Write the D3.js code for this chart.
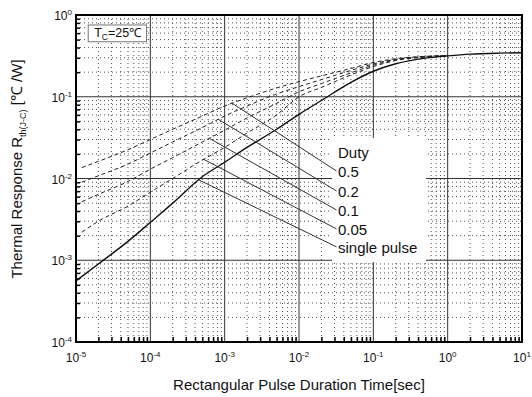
<!DOCTYPE html>
<html>
<head>
<meta charset="utf-8">
<script src="https://cdn.jsdelivr.net/npm/d3@7"></script>
<style>
  body { margin: 0; background: #fff; }
  text { font-family: "Liberation Sans", Arial, sans-serif; fill: #111; }
</style>
</head>
<body>
<div id="chart"></div>
<script>
// single pulse curve (t in sec, R in degC/W)
const singleT = [1e-5, 2e-5, 5e-5, 1e-4, 2e-4, 5e-4, 1e-3, 2e-3, 5e-3, 1e-2, 2e-2, 5e-2, 1e-1, 2e-1, 5e-1, 1, 2, 5, 10];
const singleR = [5.6e-4, 9.0e-4, 1.7e-3, 2.9e-3, 5.0e-3, 1.05e-2, 0.0158, 0.024, 0.040, 0.061, 0.090, 0.150, 0.205, 0.253, 0.297, 0.316, 0.332, 0.342, 0.346];

// duty cycle curves
const dutyT = [1.2e-5, 2e-5, 5e-5, 1e-4, 2e-4, 5e-4, 1e-3, 2e-3, 5e-3, 1e-2, 2e-2, 5e-2, 1e-1, 2e-1, 5e-1, 1];
const duty05 = [0.0136, 0.0162, 0.0225, 0.0300, 0.040, 0.058, 0.077, 0.097, 0.128, 0.153, 0.180, 0.222, 0.262, 0.292, 0.312, 0.318];
const duty02 = [0.0090, 0.0108, 0.0150, 0.0205, 0.028, 0.042, 0.058, 0.077, 0.108, 0.133, 0.162, 0.210, 0.252, 0.287, 0.310, 0.318];
const duty01 = [0.0052, 0.0064, 0.0092, 0.0130, 0.018, 0.028, 0.039, 0.055, 0.083, 0.115, 0.145, 0.196, 0.243, 0.282, 0.308, 0.318];
const duty005 = [0.0022, 0.0030, 0.0046, 0.0068, 0.010, 0.0168, 0.024, 0.036, 0.060, 0.100, 0.130, 0.185, 0.234, 0.277, 0.306, 0.317];

// annotation: leader anchors on curves and label rows
const legendRows = ["Duty", "0.5", "0.2", "0.1", "0.05", "single pulse"];
const legendRowR = [0.0178, 0.01043, 0.00594, 0.00348, 0.00204, 0.00123];
const leaderT = [1.24e-3, 8.2e-4, 6.2e-4, 5.2e-4, 4.4e-4];
const leaderR = [0.084, 0.053, 0.031, 0.0172, 0.0097];
const labelT = 0.0335;
const legendBoxT = [0.0278, 0.512];
const legendBoxR = [0.0313, 0.00095];
const tcBoxT = [1.46e-5, 8.9e-5];
const tcBoxR = [0.755, 0.471];

const xDecades = [-5, -4, -3, -2, -1, 0, 1];
const yDecades = [-4, -3, -2, -1, 0];

const width = 532, height = 397;
const margin = { top: 15, right: 10, bottom: 55, left: 76 };

const svg = d3.select("#chart").append("svg")
  .attr("width", width).attr("height", height);

const x = d3.scaleLog().domain([1e-5, 10]).range([margin.left, width - margin.right]);
const y = d3.scaleLog().domain([1e-4, 1]).range([height - margin.bottom, margin.top]);

// minor positions 2..9 in each decade
function minors(decs) {
  let out = [];
  decs.slice(0, -1).forEach(d => {
    for (let m = 2; m <= 9; m++) out.push(m * Math.pow(10, d));
  });
  return out;
}
const xMinor = minors(xDecades), yMinor = minors(yDecades);
const xMajor = xDecades.map(d => Math.pow(10, d));
const yMajor = yDecades.map(d => Math.pow(10, d));

const grid = svg.append("g");
// minor dotted grid
grid.selectAll(".xminor").data(xMinor).enter().append("line")
  .attr("x1", d => x(d)).attr("x2", d => x(d))
  .attr("y1", y(1)).attr("y2", y(1e-4))
  .attr("stroke", "#555").attr("stroke-width", 1).attr("stroke-dasharray", "1,3");
grid.selectAll(".yminor").data(yMinor).enter().append("line")
  .attr("y1", d => y(d)).attr("y2", d => y(d))
  .attr("x1", x(1e-5)).attr("x2", x(10))
  .attr("stroke", "#555").attr("stroke-width", 1).attr("stroke-dasharray", "1,3");
// major grid
grid.selectAll(".xmajor").data(xMajor).enter().append("line")
  .attr("x1", d => x(d)).attr("x2", d => x(d))
  .attr("y1", y(1)).attr("y2", y(1e-4))
  .attr("stroke", "#333").attr("stroke-width", 1);
grid.selectAll(".ymajor").data(yMajor).enter().append("line")
  .attr("y1", d => y(d)).attr("y2", d => y(d))
  .attr("x1", x(1e-5)).attr("x2", x(10))
  .attr("stroke", "#333").attr("stroke-width", 1);

// inside ticks on left and bottom
svg.append("g")
  .attr("transform", "translate(" + x(1e-5) + ",0)")
  .call(d3.axisLeft(y).tickValues(yMinor).tickSize(-4).tickFormat(""))
  .call(g => g.select(".domain").remove())
  .selectAll("line").attr("stroke", "#000").attr("stroke-width", 1.5);
svg.append("g")
  .attr("transform", "translate(0," + y(1e-4) + ")")
  .call(d3.axisBottom(x).tickValues(xMinor).tickSize(-5).tickFormat(""))
  .call(g => g.select(".domain").remove())
  .selectAll("line").attr("stroke", "#000").attr("stroke-width", 1.5);

// legend background box
svg.append("rect")
  .attr("x", x(legendBoxT[0])).attr("y", y(legendBoxR[0]))
  .attr("width", x(legendBoxT[1]) - x(legendBoxT[0]))
  .attr("height", y(legendBoxR[1]) - y(legendBoxR[0]))
  .attr("fill", "#fff");

// curves
const line = d3.line().curve(d3.curveMonotoneX);
const dutySeries = [duty05, duty02, duty01, duty005];
dutySeries.forEach(vals => {
  svg.append("path")
    .attr("d", line(dutyT.map((t, i) => [x(t), y(vals[i])])))
    .attr("fill", "none").attr("stroke", "#222").attr("stroke-width", 1)
    .attr("stroke-dasharray", "4,3");
});
svg.append("path")
  .attr("d", line(singleT.map((t, i) => [x(t), y(singleR[i])])))
  .attr("fill", "none").attr("stroke", "#111").attr("stroke-width", 1.4);

// leader lines
leaderT.forEach((t, i) => {
  svg.append("line")
    .attr("x1", x(t)).attr("y1", y(leaderR[i]))
    .attr("x2", x(labelT) - 1.5).attr("y2", y(legendRowR[i + 1]) - 6)
    .attr("stroke", "#333").attr("stroke-width", 1);
});
legendRows.forEach((lab, i) => {
  svg.append("text")
    .attr("x", x(labelT)).attr("y", y(legendRowR[i]))
    .attr("font-size", 15).text(lab);
});

// plot frame
svg.append("rect")
  .attr("x", x(1e-5)).attr("y", y(1))
  .attr("width", x(10) - x(1e-5)).attr("height", y(1e-4) - y(1))
  .attr("fill", "none").attr("stroke", "#000").attr("stroke-width", 2);

// Tc box
svg.append("rect")
  .attr("x", x(tcBoxT[0])).attr("y", y(tcBoxR[0]))
  .attr("width", x(tcBoxT[1]) - x(tcBoxT[0]))
  .attr("height", y(tcBoxR[1]) - y(tcBoxR[0]))
  .attr("fill", "#fff").attr("stroke", "#777").attr("stroke-width", 1);
const tc = svg.append("text")
  .attr("x", x(tcBoxT[0]) + 6).attr("y", y(tcBoxR[1]) - 5)
  .attr("font-size", 12.5);
tc.append("tspan").text("T");
tc.append("tspan").attr("dy", 3).attr("font-size", 8.5).text("C");
tc.append("tspan").attr("dy", -3).text("=25℃");

// tick labels
xDecades.forEach(d => {
  const t = svg.append("text")
    .attr("x", x(Math.pow(10, d))).attr("y", 362)
    .attr("text-anchor", "middle").attr("font-size", 12);
  t.append("tspan").text("10");
  t.append("tspan").attr("dy", -5).attr("font-size", 8).text(d);
});
yDecades.forEach(d => {
  const t = svg.append("text")
    .attr("x", 72).attr("y", y(Math.pow(10, d)) + 5)
    .attr("text-anchor", "end").attr("font-size", 12);
  t.append("tspan").text("10");
  t.append("tspan").attr("dy", -5).attr("font-size", 8).text(d);
});

// axis titles
svg.append("text")
  .attr("x", (x(1e-5) + x(10)) / 2).attr("y", 390)
  .attr("text-anchor", "middle").attr("font-size", 15)
  .text("Rectangular Pulse Duration Time[sec]");

const yt = svg.append("text")
  .attr("transform", "translate(22,169) rotate(-90)")
  .attr("text-anchor", "middle").attr("font-size", 15);
yt.append("tspan").text("Thermal Response R");
yt.append("tspan").attr("dy", 4).attr("font-size", 9).text("th(J-C)");
yt.append("tspan").attr("dy", -4).text(" [℃ /W]");
</script>
</body>
</html>
